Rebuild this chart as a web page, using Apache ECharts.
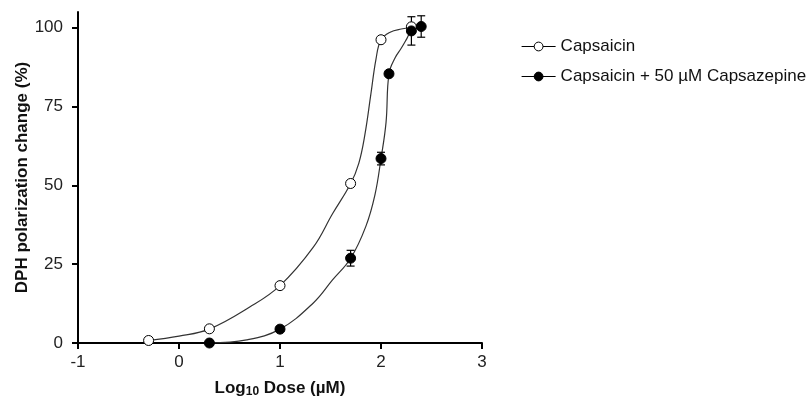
<!DOCTYPE html>
<html>
<head>
<meta charset="utf-8">
<script src="https://cdn.jsdelivr.net/npm/echarts@6/dist/echarts.min.js"></script>
<style>
    html, body { margin: 0; background: #fff; }
    #chart { width: 806px; height: 398px; }
</style>
</head>
<body>
<div id="chart"></div>
<script>
// measured points: log10 dose (µM) vs DPH polarization change (%)
const capsX = [-0.301, 0.301, 1, 1.699, 2, 2.301];
const capsY = [0.8, 4.5, 18.2, 50.6, 96.2, 100.3];
const czpX = [0.301, 1, 1.699, 2, 2.079, 2.301, 2.398];
const czpY = [0, 4.4, 26.9, 58.5, 85.4, 99, 100.4];
const czpErr = [0, 0, 2.5, 2, 0, 4.5, 3.4];

// fitted curves
const capsFitX = [-0.3, 0, 0.3, 0.7, 1, 1.33, 1.52, 1.7, 1.78, 1.84, 1.9, 1.95, 2, 2.09, 2.2, 2.3];
const capsFitY = [0.8, 2.2, 4.4, 11.4, 18.2, 30.4, 41, 50.6, 57, 66, 79, 90, 96.2, 98.6, 99.6, 100];
const czpFitX = [0.3, 0.67, 1, 1.33, 1.52, 1.7, 1.85, 1.94, 2, 2.05, 2.079, 2.14, 2.2, 2.26, 2.3, 2.4];
const czpFitY = [0, 1, 4.4, 12.7, 20, 26.9, 37, 47, 58.5, 70, 85.4, 90.5, 93.5, 96.8, 99, 100.3];

const yTicks = [0, 25, 50, 75, 100];

const capsName = "Capsaicin";
const czpName = "Capsaicin + 50 µM Capsazepine";

function zip(xs, ys) {
    return xs.map((x, i) => [x, ys[i]]);
}

const chart = echarts.init(document.getElementById("chart"));

chart.setOption({
    animation: false,
    textStyle: { fontFamily: "Liberation Sans, Arial, sans-serif" },
    grid: { left: 78, right: 324, top: 12, bottom: 55, containLabel: false, outerBoundsMode: "none" },
    legend: {
        orient: "vertical",
        left: 516,
        top: 33,
        itemWidth: 34,
        itemHeight: 11,
        itemGap: 13,
        textStyle: { fontSize: 17, color: "#111" },
        data: [
            {
                name: capsName,
                itemStyle: { color: "#fff", borderColor: "#000", borderWidth: 1 },
                lineStyle: { color: "#000", width: 1.2 }
            },
            {
                name: czpName,
                itemStyle: { color: "#000", borderColor: "#000", borderWidth: 1 },
                lineStyle: { color: "#000", width: 1.2 }
            }
        ]
    },
    xAxis: {
        type: "value",
        min: -1,
        max: 3,
        interval: 1,
        name: "{b|Log}{s|10}{b| Dose (µM)}",
        nameLocation: "middle",
        nameGap: 36,
        nameMoveOverlap: false,
        nameTextStyle: {
            rich: {
                b: { fontSize: 17, fontWeight: "bold", color: "#111" },
                s: { fontSize: 12, fontWeight: "bold", color: "#111", verticalAlign: "bottom", padding: [7, 0, 0, 0] }
            }
        },
        splitLine: { show: false },
        axisLine: { onZero: false, lineStyle: { color: "#000", width: 2 } },
        axisTick: { length: 6, lineStyle: { color: "#000", width: 2 } },
        axisLabel: { fontSize: 17, color: "#222", margin: 11 }
    },
    yAxis: {
        type: "value",
        min: 0,
        max: 105,
        interval: 25,
        name: "DPH polarization change (%)",
        nameLocation: "middle",
        nameGap: 47,
        nameMoveOverlap: false,
        nameRotate: 90,
        nameTextStyle: { fontSize: 17, fontWeight: "bold", color: "#111" },
        splitLine: { show: false },
        axisLine: { show: true, onZero: false, lineStyle: { color: "#000", width: 2 } },
        axisTick: { show: true, length: 6, customValues: yTicks, lineStyle: { color: "#000", width: 2 } },
        axisLabel: { fontSize: 17, color: "#222", margin: 15, customValues: yTicks }
    },
    series: [
        {
            name: capsName,
            type: "line",
            data: zip(capsFitX, capsFitY),
            smooth: 0.4,
            showSymbol: false,
            symbol: "circle",
            lineStyle: { color: "#333", width: 1.2 },
            itemStyle: { color: "#fff", borderColor: "#000" },
            z: 2
        },
        {
            name: czpName,
            type: "line",
            data: zip(czpFitX, czpFitY),
            smooth: 0.4,
            showSymbol: false,
            symbol: "circle",
            lineStyle: { color: "#333", width: 1.2 },
            itemStyle: { color: "#000" },
            z: 2
        },
        {
            name: "errors",
            type: "custom",
            data: czpX.map((x, i) => [x, czpY[i], czpErr[i]]),
            renderItem: function (params, api) {
                const x = api.value(0);
                const y = api.value(1);
                const e = api.value(2);
                if (!e) return null;
                const hi = api.coord([x, y + e]);
                const lo = api.coord([x, y - e]);
                const w = 4;
                const st = { stroke: "#000", lineWidth: 1.2 };
                return {
                    type: "group",
                    children: [
                        { type: "line", shape: { x1: hi[0], y1: hi[1], x2: lo[0], y2: lo[1] }, style: st },
                        { type: "line", shape: { x1: hi[0] - w, y1: hi[1], x2: hi[0] + w, y2: hi[1] }, style: st },
                        { type: "line", shape: { x1: lo[0] - w, y1: lo[1], x2: lo[0] + w, y2: lo[1] }, style: st }
                    ]
                };
            },
            z: 3
        },
        {
            name: "capsPts",
            type: "scatter",
            data: zip(capsX, capsY),
            symbol: "circle",
            symbolSize: 10,
            itemStyle: { color: "#fff", borderColor: "#000", borderWidth: 1, opacity: 1 },
            z: 4
        },
        {
            name: "czpPts",
            type: "scatter",
            data: zip(czpX, czpY),
            symbol: "circle",
            symbolSize: 10,
            itemStyle: { color: "#000", borderColor: "#000", borderWidth: 1, opacity: 1 },
            z: 5
        }
    ]
});
</script>
</body>
</html>
